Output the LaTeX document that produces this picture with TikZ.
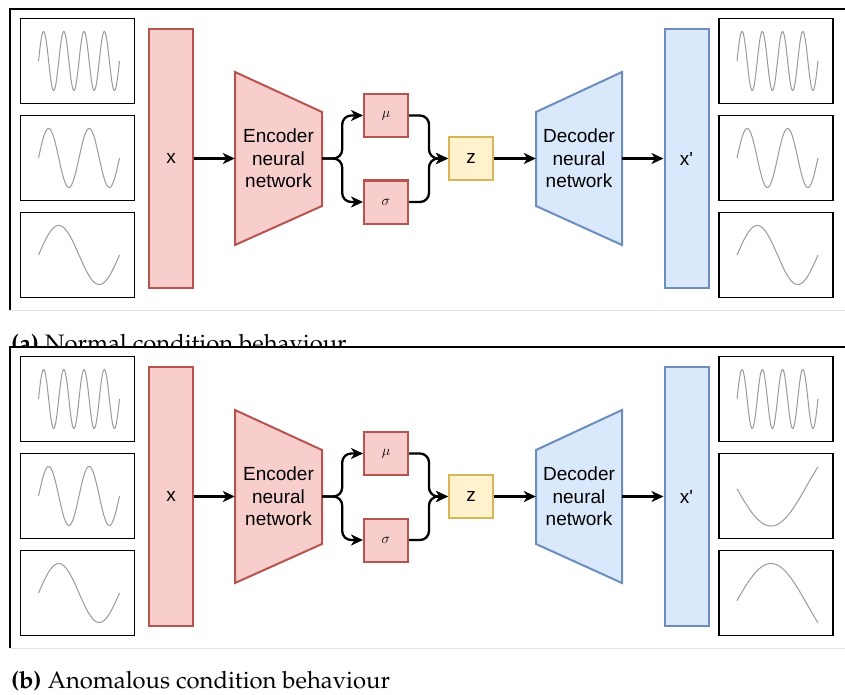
\documentclass[tikz,border=0pt]{standalone}
\usepackage[T1]{fontenc}
\usepackage{fontspec}
\setmainfont{Liberation Sans}[Ligatures=TeXOff]
\usetikzlibrary{arrows.meta}

\definecolor{encfill}{HTML}{F8CECC}
\definecolor{encline}{HTML}{B85450}
\definecolor{decfill}{HTML}{DAE8FC}
\definecolor{decline}{HTML}{6C8EBF}
\definecolor{latfill}{HTML}{FFF2CC}
\definecolor{latline}{HTML}{D6B656}
\definecolor{wavegray}{HTML}{9A9A9A}
\definecolor{framegray}{HTML}{E4E4E4}

% serif caption face (Palatino clone)
\newcommand\capfont{\fontencoding{T1}\fontfamily{ppl}\selectfont}

\tikzset{
  encshape/.style={draw=encline, fill=encfill, line width=2pt, line join=miter},
  decshape/.style={draw=decline, fill=decfill, line width=2pt, line join=miter},
  encbox/.style={encshape, inner sep=0pt},
  decbox/.style={decshape, inner sep=0pt},
  latbox/.style={draw=latline, fill=latfill, line width=2pt, inner sep=0pt},
  wbox/.style={draw=black, line width=1.4pt, minimum width=114pt, minimum height=85pt, inner sep=0pt},
  wave/.style={draw=wavegray, line width=1pt},
  arr/.style={-{Stealth[length=12pt,width=11pt,inset=3.5pt]}, line width=2.3pt, black},
  lbl/.style={font=\fontsize{19}{22.5}\selectfont, align=center},
  greek/.style={font=\fontsize{15}{15}\selectfont},
  captxt/.style={anchor=base west, inner sep=0pt, font=\capfont\fontsize{23.8}{28}\selectfont},
}

% box holding a signal trace; #4 gives the trace height as a function of \x
\newcommand\wavebox[4]{%
  \node[wbox] (#1) at (#2,#3) {};
  \draw[wave, shift={(#1.center)}] plot[domain=-39:42, samples=140, smooth] (\x, {#4});
}

% one full encoder/decoder panel: #1 name prefix, #2 vertical offset,
% #3 and #4 the middle and lower reconstructed traces
\newcommand\vaepanel[4]{%
\begin{scope}[shift={(0,#2)}]
  \fill[white] (10,9) rectangle (845,310);
  \draw[black, line width=1.1pt] (845,9) -- (10,9) -- (10,310);
  \draw[framegray, line width=1pt] (10,310) -- (845,310);
  % input traces
  \wavebox{#1in1}{77.5}{61}{-29.5*sin(17.778*(\x+39))}
  \wavebox{#1in2}{77.5}{158}{-29.5*sin(8.889*(\x+39))}
  \wavebox{#1in3}{77.5}{255}{-29.5*sin(4.444*(\x+39))}
  % reconstructed traces
  \wavebox{#1out1}{776}{61}{-29.5*sin(17.778*(\x+39))}
  \wavebox{#1out2}{776}{158}{#3}
  \wavebox{#1out3}{776}{255}{#4}
  % input and output layers
  \node[encbox, minimum width=44pt, minimum height=259pt, lbl] (#1x) at (171,158.5) {x};
  \node[decbox, minimum width=44pt, minimum height=259pt, lbl] (#1xr) at (686.5,158.5) {x'};
  % encoder and decoder bodies
  \path[encshape] (235,72) -- (322,112) -- (322,206) -- (235,245) -- cycle;
  \node[lbl, minimum width=87pt, minimum height=173pt, inner sep=0pt] (#1enc) at (278.5,158.5) {Encoder\\neural\\network};
  \path[decshape] (536,112) -- (622,72) -- (622,245) -- (536,206) -- cycle;
  \node[lbl, minimum width=86pt, minimum height=173pt, inner sep=0pt] (#1dec) at (579,158.5) {Decoder\\neural\\network};
  % latent parameters
  \node[encbox, minimum width=44pt, minimum height=43pt, greek] (#1mu) at (386,115.5) {$\mu$};
  \node[encbox, minimum width=44pt, minimum height=43pt, greek] (#1sig) at (386,202) {$\sigma$};
  \node[latbox, minimum width=44pt, minimum height=43pt, lbl] (#1z) at (471,158.5) {z};
  % connectors
  \draw[arr] (#1x.east) -- (#1enc.west);
  \draw[arr, rounded corners=9pt] (#1enc.east) -- ++(20,0) |- (#1mu.west);
  \draw[arr, rounded corners=9pt] (#1enc.east) -- ++(20,0) |- (#1sig.west);
  \draw[arr, rounded corners=9pt] (#1mu.east) -- ++(20,0) |- (#1z.west);
  \draw[arr, rounded corners=9pt] (#1sig.east) -- ++(20,0) |- (#1z.west);
  \draw[arr] (#1z.east) -- (#1dec.west);
  \draw[arr] (#1dec.east) -- (#1xr.west);
\end{scope}}

\begin{document}
\begin{tikzpicture}[x=1pt, y=-1pt]
  \useasboundingbox[fill=white] (0,0) rectangle (845,695);
  \node[captxt] (capa) at (11,351) {\textbf{(a)} Normal condition behaviour};
  \vaepanel{a}{0}{-29.5*sin(8.889*(\x+39))}{-29.5*sin(4.444*(\x+39))}
  \vaepanel{b}{338}{-10+40*cos(2.527*(\x+5))}{10.5-40*cos(2.527*(\x+5))}
  \node[captxt] (capb) at (11,688) {\textbf{(b)} Anomalous condition behaviour};
\end{tikzpicture}
\end{document}
